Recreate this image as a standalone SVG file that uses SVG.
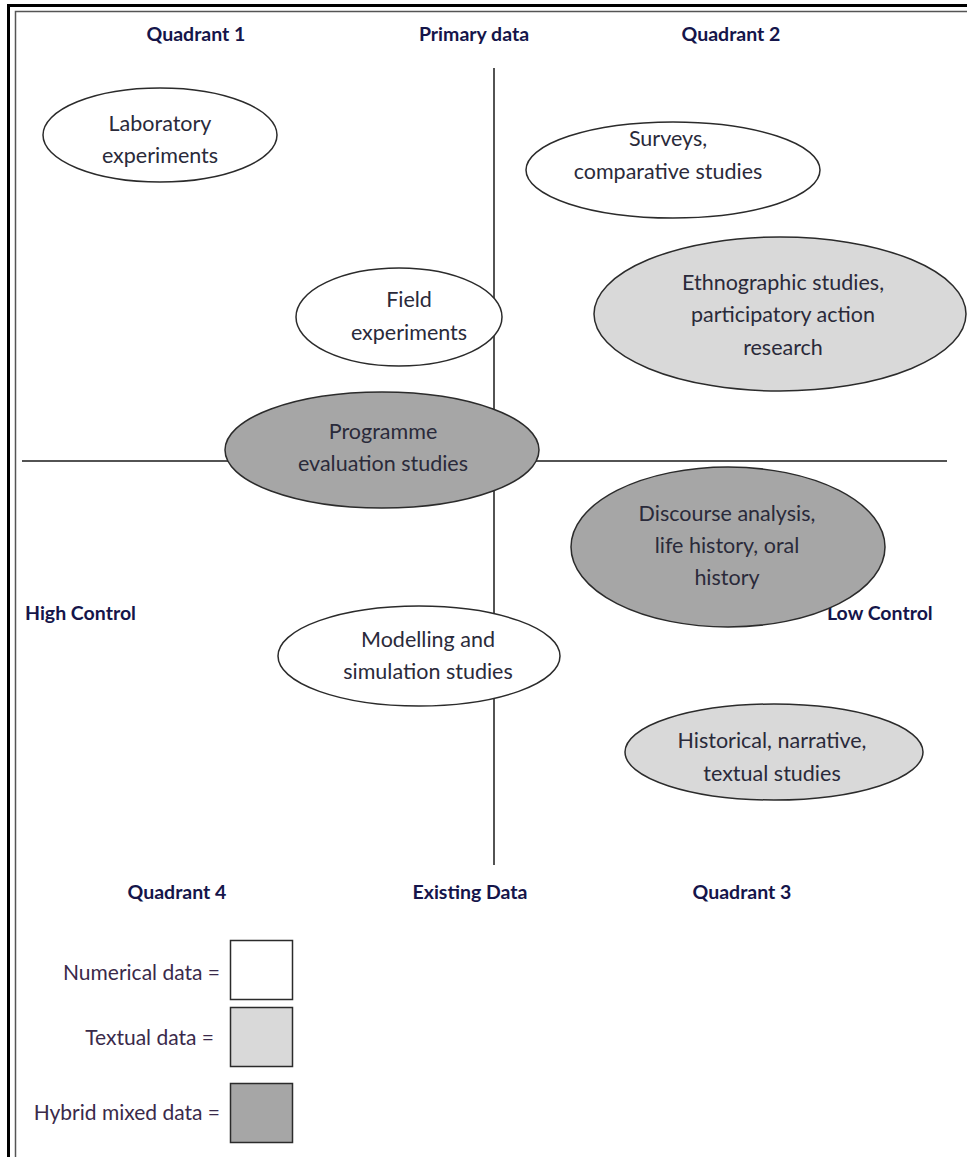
<svg xmlns="http://www.w3.org/2000/svg" width="967" height="1157" viewBox="0 0 967 1157">
<style>
.e{stroke:#2b2b2b;stroke-width:1.5}
.w{fill:#ffffff}
.l{fill:#d9d9d9}
.d{fill:#a6a6a6}
.t{font-family:Lato,"Open Sans",sans-serif;font-size:21.5px;fill:#2a2a3a;text-anchor:middle}
.b{font-family:Lato,"Open Sans",sans-serif;font-size:19.5px;font-weight:bold;fill:#15154a}
.c{text-anchor:middle}
.g{font-family:Lato,"Open Sans",sans-serif;font-size:21px;fill:#3a2a4a;text-anchor:end}
.ax{stroke:#1a1a1a;stroke-width:1.5;fill:none}
</style>
<rect width="967" height="1157" fill="#ffffff"/>
<g id="frame">
<path d="M8.5,1157 V5.5 H967" fill="none" stroke="#000" stroke-width="3"/>
<path d="M15.5,1157 V11.5 H967" fill="none" stroke="#555" stroke-width="1.5"/>
</g>
<g id="connectors">
<line class="ax" x1="494" y1="68" x2="494" y2="865"/>
<line class="ax" x1="22" y1="461" x2="947" y2="461"/>
</g>
<g id="labels">
<text class="b c" x="196" y="41">Quadrant 1</text>
<text class="b c" x="474" y="41">Primary data</text>
<text class="b c" x="731" y="41">Quadrant 2</text>
<text class="b" x="25" y="620">High Control</text>
<text class="b" x="827" y="620">Low Control</text>
<text class="b c" x="177" y="899">Quadrant 4</text>
<text class="b c" x="470" y="899">Existing Data</text>
<text class="b c" x="742" y="899">Quadrant 3</text>
</g>
<g id="lab">
<ellipse class="e w" cx="160" cy="135" rx="117" ry="47"/>
<text class="t" x="160" y="131">Laboratory</text>
<text class="t" x="160" y="163">experiments</text>
</g>
<g id="surveys">
<ellipse class="e w" cx="673" cy="170" rx="147" ry="48"/>
<text class="t" x="668" y="146">Surveys,</text>
<text class="t" x="668" y="179">comparative studies</text>
</g>
<g id="ethno">
<ellipse class="e l" cx="780" cy="314" rx="186" ry="77"/>
<text class="t" x="783" y="290">Ethnographic studies,</text>
<text class="t" x="783" y="322">participatory action</text>
<text class="t" x="783" y="355">research</text>
</g>
<g id="field">
<ellipse class="e w" cx="399" cy="317" rx="103" ry="49"/>
<text class="t" x="409" y="307">Field</text>
<text class="t" x="409" y="340">experiments</text>
</g>
<g id="programme">
<ellipse class="e d" cx="382" cy="450" rx="157" ry="58"/>
<text class="t" x="383" y="439">Programme</text>
<text class="t" x="383" y="471">evaluation studies</text>
</g>
<g id="discourse">
<ellipse class="e d" cx="728" cy="547" rx="157" ry="80"/>
<text class="t" x="727" y="521">Discourse analysis,</text>
<text class="t" x="727" y="553">life history, oral</text>
<text class="t" x="727" y="585">history</text>
</g>
<g id="modelling">
<ellipse class="e w" cx="419" cy="656" rx="141" ry="50"/>
<text class="t" x="428" y="647">Modelling and</text>
<text class="t" x="428" y="679">simulation studies</text>
</g>
<g id="historical">
<ellipse class="e l" cx="774" cy="752" rx="149" ry="48"/>
<text class="t" x="772" y="748">Historical, narrative,</text>
<text class="t" x="772" y="781">textual studies</text>
</g>
<g id="legend">
<rect class="e w" x="230.5" y="940.5" width="62" height="59"/>
<rect class="e l" x="230.5" y="1007.5" width="62" height="59"/>
<rect class="e d" x="230.5" y="1083.5" width="62" height="59"/>
<text class="g" x="220" y="980">Numerical data =</text>
<text class="g" x="214" y="1045">Textual data =</text>
<text class="g" x="220" y="1120">Hybrid mixed data =</text>
</g>
</svg>
